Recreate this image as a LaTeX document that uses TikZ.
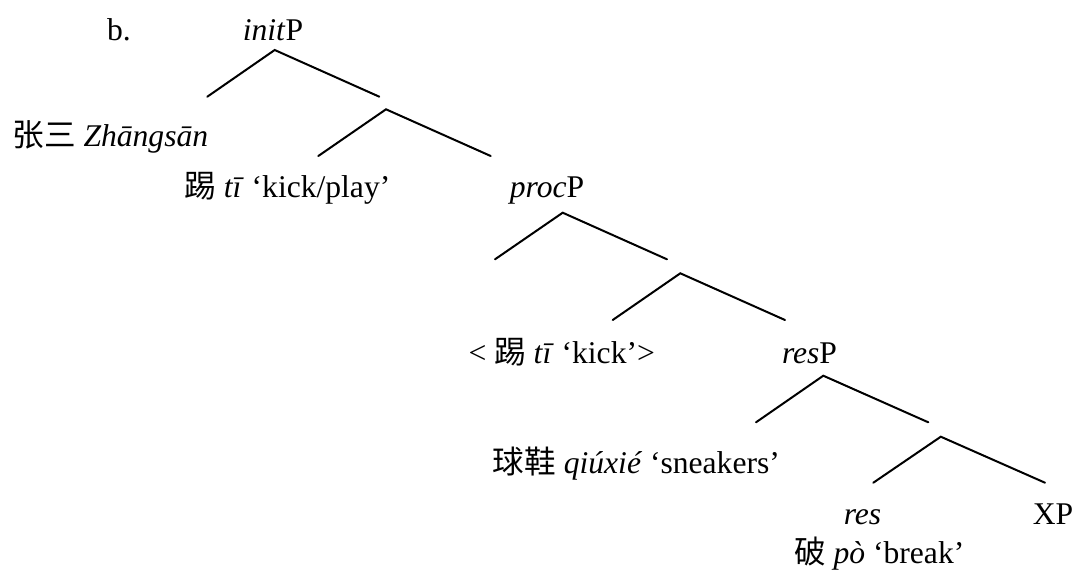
\documentclass[tikz,border=0pt]{standalone}
\usepackage{fontspec}
\setmainfont{Liberation Serif}
\newfontfamily\cjk{Noto Sans CJK SC}

\begin{document}
\begin{tikzpicture}[x=0.5pt,y=-0.5pt]
\tikzset{
  lbl/.style={anchor=base,inner sep=0pt,font=\fontsize{15.8}{19}\selectfont},
  branch/.style={line width=1pt,line cap=round}
}
\useasboundingbox (0,0) rectangle (1075,569);

% Labels of the tree
\node[lbl] (ex)    at (119,40)    {b.};
\node[lbl] (initP) at (273,40)    {\textit{init}P};
\node[lbl] (subj)  at (110.3,146.7) {{\cjk 张三} \textit{Zhāngsān}};
\node[lbl] (initV) at (287.3,197.5) {{\cjk 踢} \textit{tī} `kick/play'};
\node[lbl] (procP) at (547,197.5) {\textit{proc}P};
\node[lbl] (procV) at (561.7,363.3) {< {\cjk 踢} \textit{tī} `kick'>};
\node[lbl] (resP)  at (809.5,363.3) {\textit{res}P};
\node[lbl] (obj)   at (636.3,473.3) {{\cjk 球鞋} \textit{qiúxié} `sneakers'};
\node[lbl] (resH)  at (862.5,524)   {\textit{res}};
\node[lbl] (XP)    at (1053,524)    {XP};
\node[lbl] (resV)  at (879.2,563.3) {{\cjk 破} \textit{pò} `break'};

% Branch points (top) and the ends of their two legs
\coordinate (t1) at (274.7,50);   \coordinate (l1) at (207.3,96.7);  \coordinate (r1) at (379.3,96.7);
\coordinate (t2) at (386,109.3);  \coordinate (l2) at (318.3,156);   \coordinate (r2) at (490.7,156);
\coordinate (t3) at (562.7,212.7);\coordinate (l3) at (495,259.3);   \coordinate (r3) at (667,259.3);
\coordinate (t4) at (680.3,273.3);\coordinate (l4) at (612.7,320);   \coordinate (r4) at (785,320);
\coordinate (t5) at (823.3,375.7);\coordinate (l5) at (756,422.3);   \coordinate (r5) at (928.3,422.3);
\coordinate (t6) at (940.8,436.7);\coordinate (l6) at (873.3,482.7); \coordinate (r6) at (1045,482.7);

% Draw the branches
\foreach \n in {1,...,6}
  \draw[branch] (l\n) -- (t\n) -- (r\n);

\end{tikzpicture}
\end{document}
